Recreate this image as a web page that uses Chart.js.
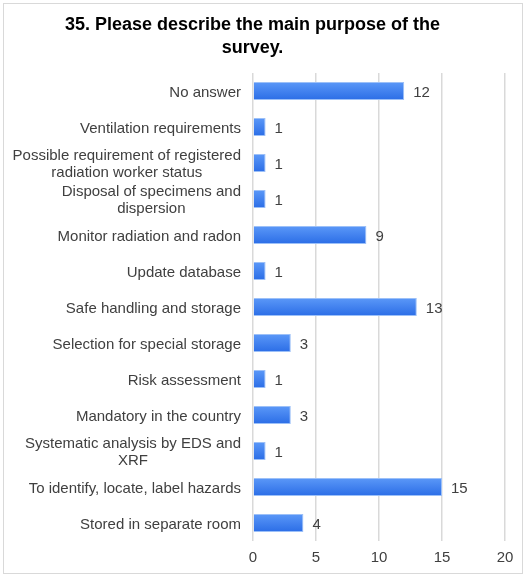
<!DOCTYPE html>
<html>
<head>
<meta charset="utf-8">
<script src="https://cdn.jsdelivr.net/npm/chart.js@4/dist/chart.umd.min.js"></script>
<style>
  html, body { margin: 0; padding: 0; background: #fff; }
  #wrap { width: 524px; height: 575px; position: relative; }
</style>
</head>
<body>
<div id="wrap"><canvas id="c" width="524" height="575"></canvas></div>
<script>
// Survey question 35: stated purposes of the survey, counts of responses
const categories = [
  'No answer',
  'Ventilation requirements',
  ['Possible requirement of registered', 'radiation worker status'],
  ['Disposal of specimens and', 'dispersion'],
  'Monitor radiation and radon',
  'Update database',
  'Safe handling and storage',
  'Selection for special storage',
  'Risk assessment',
  'Mandatory in the country',
  ['Systematic analysis by EDS and', 'XRF'],
  'To identify, locate, label hazards',
  'Stored in separate room'
];
const responses = [12, 1, 1, 1, 9, 1, 13, 3, 1, 3, 1, 15, 4];
const xTicks = [0, 5, 10, 15, 20];

const FONT = '"Liberation Sans", Arial, sans-serif';
const TEXT = '#404040';

// White background and thin frame round the whole chart
const frame = {
  id: 'frame',
  beforeDraw(chart) {
    const ctx = chart.ctx;
    ctx.save();
    ctx.fillStyle = '#fff';
    ctx.fillRect(0, 0, chart.width, chart.height);
    ctx.strokeStyle = '#d9d9d9';
    ctx.lineWidth = 1;
    ctx.strokeRect(3.5, 3.5, chart.width - 5, chart.height - 5);
    ctx.restore();
  }
};

// Category labels: each block right-aligned, its lines centred on each other
const catLabels = {
  id: 'catLabels',
  afterDraw(chart) {
    const ctx = chart.ctx;
    const y = chart.scales.y;
    const right = chart.chartArea.left - 12;
    const lh = 17;
    ctx.save();
    ctx.font = '15px ' + FONT;
    ctx.fillStyle = TEXT;
    ctx.textBaseline = 'middle';
    ctx.textAlign = 'center';
    categories.forEach((lab, i) => {
      const lines = Array.isArray(lab) ? lab : [lab];
      const w = Math.max(...lines.map(l => ctx.measureText(l).width));
      const cx = right - w / 2;
      const cy = y.getPixelForValue(i) + 1.5;
      const top = cy - (lines.length - 1) * lh / 2;
      lines.forEach((l, k) => ctx.fillText(l, cx, top + k * lh));
    });
    ctx.restore();
  }
};

// Value labels to the right of each bar
const valueLabels = {
  id: 'valueLabels',
  afterDatasetsDraw(chart) {
    const ctx = chart.ctx;
    const meta = chart.getDatasetMeta(0);
    ctx.save();
    ctx.font = '15px ' + FONT;
    ctx.fillStyle = TEXT;
    ctx.textBaseline = 'middle';
    ctx.textAlign = 'left';
    meta.data.forEach((bar, i) => {
      ctx.fillText(String(responses[i]), bar.x + 9, bar.y + 1.5);
    });
    ctx.restore();
  }
};

new Chart(document.getElementById('c'), {
  type: 'bar',
  data: {
    labels: categories,
    datasets: [{
      data: responses,
      // vertical shading inside each bar, lighter at the top
      backgroundColor(context) {
        const chart = context.chart;
        const ys = chart.scales.y;
        if (!ys || context.dataIndex === undefined) return '#3b80f2';
        const cy = ys.getPixelForValue(context.dataIndex);
        if (!isFinite(cy)) return '#3b80f2';
        const g = chart.ctx.createLinearGradient(0, cy - 9, 0, cy + 9);
        g.addColorStop(0, '#5b98f8');
        g.addColorStop(1, '#2b6de6');
        return g;
      },
      borderColor: '#9cc0f8',
      borderWidth: 1,
      borderSkipped: 'left',
      categoryPercentage: 1,
      barPercentage: 0.5
    }]
  },
  options: {
    indexAxis: 'y',
    responsive: false,
    animation: false,
    devicePixelRatio: 1,
    layout: { padding: { top: 8, right: 19, bottom: 0, left: 0 } },
    plugins: {
      legend: { display: false },
      tooltip: { enabled: false },
      title: {
        display: true,
        text: ['35. Please describe the main purpose of the', 'survey.'],
        font: { family: FONT, size: 18, weight: 'bold', lineHeight: 1.25 },
        color: '#000',
        padding: { top: 6, bottom: 14 }
      }
    },
    scales: {
      x: {
        min: 0,
        max: 20,
        afterBuildTicks(scale) { scale.ticks = xTicks.map(v => ({ value: v })); },
        grid: { color: '#d9d9d9', lineWidth: 1.5, drawTicks: false },
        border: { display: false },
        ticks: { color: TEXT, font: { family: FONT, size: 15 }, padding: 8 }
      },
      y: {
        grid: { display: false },
        border: { display: false },
        ticks: { display: false },
        afterFit(scale) { scale.width = 253; }
      }
    }
  },
  plugins: [frame, catLabels, valueLabels]
});
</script>
</body>
</html>
